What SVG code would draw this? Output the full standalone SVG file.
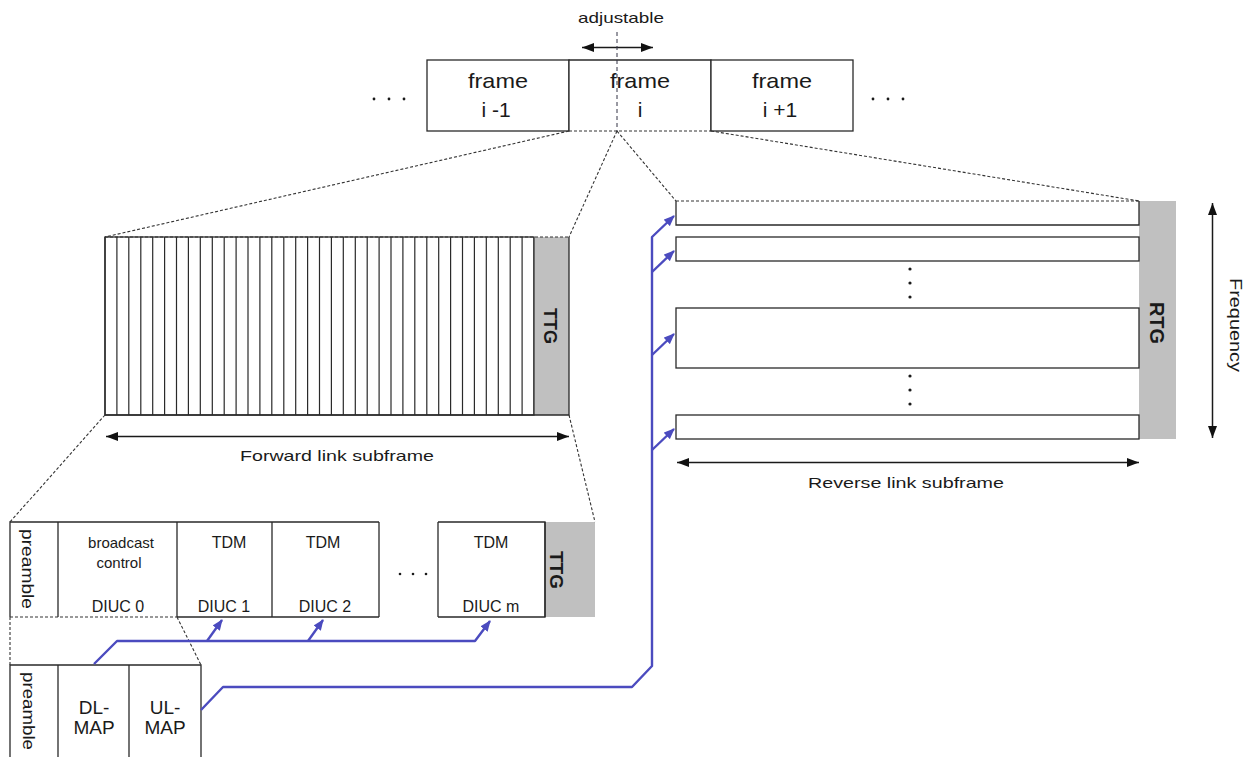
<svg xmlns="http://www.w3.org/2000/svg" width="1251" height="757" viewBox="0 0 1251 757">
<style>
.t{font-family:"Liberation Sans",Arial,sans-serif;fill:#1a1a1a}
.box{fill:#fff;stroke:#2a2a2a;stroke-width:1.3}
.gray{fill:#c0c0c0;stroke:none}
.dash{fill:none;stroke:#333;stroke-width:1.1;stroke-dasharray:3,2}
.blk{fill:none;stroke:#1a1a1a;stroke-width:1.5}
.blue{fill:none;stroke:#4b4bbf;stroke-width:2.4;stroke-linejoin:round}
.dot{fill:#1a1a1a}
</style>
<defs>
<marker id="ah" viewBox="0 0 12 9" refX="12" refY="4.5" markerWidth="12" markerHeight="9" markerUnits="userSpaceOnUse" orient="auto-start-reverse"><path d="M0,0L12,4.5L0,9z" fill="#111"/></marker>
<marker id="bh" viewBox="0 0 11 9" refX="10" refY="4.5" markerWidth="11" markerHeight="9" markerUnits="userSpaceOnUse" orient="auto"><path d="M0,0L11,4.5L0,9z" fill="#4b4bbf"/></marker>
</defs>
<rect width="1251" height="757" fill="#fff"/>

<g id="adjustable">
<text class="t" x="621" y="23" font-size="15" text-anchor="middle" textLength="86" lengthAdjust="spacingAndGlyphs" fill="#333">adjustable</text>
<line class="blk" x1="582" y1="47.5" x2="653" y2="47.5" marker-start="url(#ah)" marker-end="url(#ah)"/>
</g>
<g id="frame-prev">
<rect class="box" x="427" y="60" width="142" height="71"/>
<text class="t" x="498" y="88" font-size="21" text-anchor="middle" textLength="60" lengthAdjust="spacingAndGlyphs">frame</text>
<text class="t" x="496" y="117" font-size="21" text-anchor="middle">i -1</text>
</g>
<g id="frame-i">
<path d="M569,131V60H711V131" fill="#fff" stroke="#2a2a2a" stroke-width="1.3"/>
<line class="dash" x1="569" y1="131" x2="711" y2="131"/>
<text class="t" x="640" y="88" font-size="21" text-anchor="middle" textLength="60" lengthAdjust="spacingAndGlyphs">frame</text>
<text class="t" x="640" y="117" font-size="21" text-anchor="middle">i</text>
<line x1="617" y1="32" x2="617" y2="131" stroke="#334" stroke-width="1" stroke-dasharray="4,3"/>
</g>
<g id="frame-next">
<rect class="box" x="711" y="60" width="142" height="71"/>
<text class="t" x="782" y="88" font-size="21" text-anchor="middle" textLength="60" lengthAdjust="spacingAndGlyphs">frame</text>
<text class="t" x="780" y="117" font-size="21" text-anchor="middle">i +1</text>
</g>
<g id="dots-top">
<circle class="dot" cx="374" cy="99" r="1.4"/><circle class="dot" cx="389" cy="99" r="1.4"/><circle class="dot" cx="404" cy="99" r="1.4"/>
<circle class="dot" cx="873" cy="99" r="1.4"/><circle class="dot" cx="888" cy="99" r="1.4"/><circle class="dot" cx="903" cy="99" r="1.4"/>
</g>

<g id="forward-subframe">
<rect class="box" x="105" y="237" width="429" height="178" stroke="none"/>
<rect class="gray" x="534" y="237" width="35" height="178"/>
<path d="M116.9,237V415M128.8,237V415M140.8,237V415M152.7,237V415M164.6,237V415M176.5,237V415M188.4,237V415M200.3,237V415M212.3,237V415M224.2,237V415M236.1,237V415M248,237V415M259.9,237V415M271.8,237V415M283.8,237V415M295.7,237V415M307.6,237V415M319.5,237V415M331.4,237V415M343.3,237V415M355.3,237V415M367.2,237V415M379.1,237V415M391,237V415M402.9,237V415M414.8,237V415M426.8,237V415M438.7,237V415M450.6,237V415M462.5,237V415M474.4,237V415M486.3,237V415M498.3,237V415M510.2,237V415M522.1,237V415M534,237V415" stroke="#2a2a2a" stroke-width="1.2" fill="none"/>
<path d="M105,237V415H569V237" fill="none" stroke="#2a2a2a" stroke-width="1.3"/>
<line class="dash" x1="105" y1="237" x2="569" y2="237" stroke="#555"/>
<text class="t" font-size="18" font-weight="bold" text-anchor="middle" transform="translate(544,326) rotate(90)">TTG</text>
<line class="blk" x1="106" y1="436.5" x2="569" y2="436.5" marker-start="url(#ah)" marker-end="url(#ah)"/>
<text class="t" x="337" y="461" font-size="15" text-anchor="middle" textLength="194" lengthAdjust="spacingAndGlyphs" fill="#333">Forward link subframe</text>
</g>

<g id="reverse-subframe">
<rect class="gray" x="1139" y="201" width="37" height="238"/>
<path d="M676,201V225H1139V201" class="box"/>
<line class="dash" x1="676" y1="201" x2="1139" y2="201"/>
<rect class="box" x="676" y="237" width="463" height="24"/>
<rect class="box" x="676" y="308" width="463" height="60"/>
<rect class="box" x="676" y="415" width="463" height="24"/>
<circle class="dot" cx="910" cy="269" r="1.6"/><circle class="dot" cx="910" cy="283" r="1.6"/><circle class="dot" cx="910" cy="297" r="1.6"/>
<circle class="dot" cx="910" cy="376" r="1.6"/><circle class="dot" cx="910" cy="390" r="1.6"/><circle class="dot" cx="910" cy="404" r="1.6"/>
<text class="t" font-size="20" font-weight="bold" text-anchor="middle" transform="translate(1150,323) rotate(90)">RTG</text>
<line class="blk" x1="677" y1="462.5" x2="1139" y2="462.5" marker-start="url(#ah)" marker-end="url(#ah)"/>
<text class="t" x="906" y="488" font-size="15" text-anchor="middle" textLength="196" lengthAdjust="spacingAndGlyphs" fill="#333">Reverse link subframe</text>
</g>
<g id="frequency">
<line class="blk" x1="1212.5" y1="203" x2="1212.5" y2="438" marker-start="url(#ah)" marker-end="url(#ah)"/>
<text class="t" font-size="16" text-anchor="middle" textLength="94" lengthAdjust="spacingAndGlyphs" fill="#333" transform="translate(1230,325) rotate(90)">Frequency</text>
</g>

<g id="fwd-detail">
<rect class="gray" x="545" y="522" width="50" height="95"/>
<path d="M10,617V522H545V617H438M379,617H177" fill="none" stroke="#2a2a2a" stroke-width="1.3"/>
<line x1="379" y1="522" x2="438" y2="522" stroke="#fff" stroke-width="2"/>
<path d="M58,522V617M177,522V617M272,522V617M379,522V617M438,522V617M545,522V617" stroke="#2a2a2a" stroke-width="1.3" fill="none"/>
<line class="dash" x1="10" y1="617" x2="177" y2="617"/>
<text class="t" font-size="16" text-anchor="middle" textLength="80" lengthAdjust="spacingAndGlyphs" transform="translate(22,569) rotate(90)">preamble</text>
<text class="t" x="121" y="548" font-size="15" text-anchor="middle">broadcast</text>
<text class="t" x="119" y="568" font-size="15" text-anchor="middle">control</text>
<text class="t" x="118" y="612" font-size="16" text-anchor="middle">DIUC 0</text>
<text class="t" x="229" y="548" font-size="16" text-anchor="middle">TDM</text>
<text class="t" x="224" y="612" font-size="16" text-anchor="middle">DIUC 1</text>
<text class="t" x="323" y="548" font-size="16" text-anchor="middle">TDM</text>
<text class="t" x="325" y="612" font-size="16" text-anchor="middle">DIUC 2</text>
<circle class="dot" cx="400" cy="574" r="1.3"/><circle class="dot" cx="413" cy="574" r="1.3"/><circle class="dot" cx="426" cy="574" r="1.3"/>
<text class="t" x="491" y="548" font-size="16" text-anchor="middle">TDM</text>
<text class="t" x="491" y="612" font-size="16" text-anchor="middle">DIUC m</text>
<text class="t" font-size="19" font-weight="bold" text-anchor="middle" transform="translate(550,570) rotate(90)">TTG</text>
</g>

<g id="bc-detail">
<path d="M10,757V665H201V757M58,665V757M129,665V757" fill="none" stroke="#2a2a2a" stroke-width="1.3"/>
<text class="t" font-size="16" text-anchor="middle" textLength="78" lengthAdjust="spacingAndGlyphs" transform="translate(23,711) rotate(90)">preamble</text>
<text class="t" x="94" y="714" font-size="19" text-anchor="middle">DL-</text>
<text class="t" x="94" y="734" font-size="19" text-anchor="middle">MAP</text>
<text class="t" x="165" y="714" font-size="19" text-anchor="middle">UL-</text>
<text class="t" x="165" y="734" font-size="19" text-anchor="middle">MAP</text>
</g>

<g id="connectors">
<path class="dash" d="M569,131L105,237M617,131L569,237M617,131L676,201M711,131L1139,201"/>
<path class="dash" d="M105,415L10,522M569,415L595,522"/>
<path class="dash" d="M10,617V665M177,617L201,665"/>
<path class="blue" d="M94,664L117,641H475L490,621" marker-end="url(#bh)"/>
<path class="blue" d="M207,641L222,620" marker-end="url(#bh)"/>
<path class="blue" d="M308,641L323,620" marker-end="url(#bh)"/>
<path class="blue" d="M201,710L223,687H632L652,666V237L674,216" marker-end="url(#bh)"/>
<path class="blue" d="M652,272L674,251" marker-end="url(#bh)"/>
<path class="blue" d="M652,355L674,334" marker-end="url(#bh)"/>
<path class="blue" d="M652,450L674,429" marker-end="url(#bh)"/>
</g>
</svg>
